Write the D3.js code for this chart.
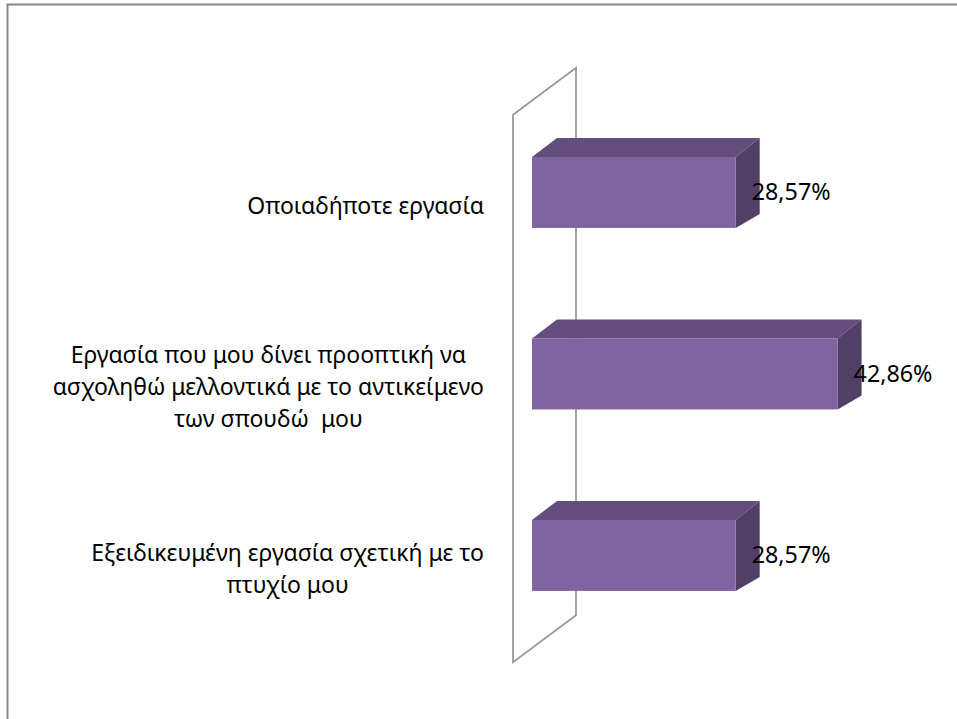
<!DOCTYPE html>
<html>
<head>
<meta charset="utf-8">
<script src="https://cdn.jsdelivr.net/npm/d3@7"></script>
<style>
html,body{margin:0;padding:0;background:#fff;}
svg{display:block;}
text{font-family:"Noto Sans","Open Sans",sans-serif;fill:#000;}
</style>
</head>
<body>
<svg id="chart" width="957" height="719"></svg>
<script>
const categories = [
  "Οποιαδήποτε εργασία",
  "Εργασία που μου δίνει προοπτική να ασχοληθώ μελλοντικά με το αντικείμενο των σπουδώ  μου",
  "Εξειδικευμένη εργασία σχετική με το πτυχίο μου"
];
const categoryLines = [
  ["Οποιαδήποτε εργασία"],
  ["Εργασία που μου δίνει προοπτική να", "ασχοληθώ μελλοντικά με το αντικείμενο", "των σπουδώ  μου"],
  ["Εξειδικευμένη εργασία σχετική με το", "πτυχίο μου"]
];
const values = [28.57, 42.86, 28.57];
const valueLabels = ["28,57%", "42,86%", "28,57%"];

const svg = d3.select("#chart");

// outer frame (extends past right/bottom edges)
svg.append("rect").attr("x", 7.5).attr("y", 4.5).attr("width", 960).attr("height", 730)
  .attr("fill", "#fff").attr("stroke", "#868686").attr("stroke-width", 2);

const x = d3.scaleLinear().domain([0, 50]).range([532, 532 + 50 * 7.13]);
const y = d3.scaleBand().domain(categories).range([101.7, 646.2])
  .paddingInner(0.609).paddingOuter(0.3045);

// 3D depth offsets
const bdx = 24, bdy = -19, bdyB = -14;

// wall
const wallDX = 63, wallDY = -47;
const wx = x(0) - 19;
const wTop = y.range()[0] + 13, wBot = y.range()[1] + 16;
svg.append("path")
  .attr("d", `M${wx},${wTop} L${wx + wallDX},${wTop + wallDY} L${wx + wallDX},${wBot + wallDY} L${wx},${wBot} Z`)
  .attr("fill", "none").attr("stroke", "#999999").attr("stroke-width", 1.8);

const colFront = "#8064A2", colTop = "#634D7C", colSide = "#523F68";

const g = svg.append("g");
categories.forEach((c, i) => {
  const top = y(c), bot = y(c) + y.bandwidth();
  const x0 = x(0), xr = x(values[i]);
  g.append("path").attr("d",
    `M${x0},${top} L${x0 + bdx + 1},${top + bdy} L${xr + bdx},${top + bdy} L${xr},${top} Z`)
    .attr("fill", colTop);
  g.append("path").attr("d",
    `M${xr},${top} L${xr + bdx},${top + bdy} L${xr + bdx},${bot + bdyB} L${xr},${bot} Z`)
    .attr("fill", colSide);
  g.append("rect").attr("x", x0).attr("y", top).attr("width", xr - x0).attr("height", bot - top)
    .attr("fill", colFront);
  g.append("text").attr("x", xr + 16).attr("y", (top + bot) / 2 + 1.5)
    .attr("dominant-baseline", "middle")
    .style("font-size", "23.3px")
    .text(valueLabels[i]);
});

// category labels
const labelRight = 484, lineH = 32;
categories.forEach((c, i) => {
  const lines = categoryLines[i];
  const cy = y(c) + y.bandwidth() / 2 + 15;
  const tg = svg.append("g");
  const ts = lines.map((ln, j) => tg.append("text")
    .attr("y", cy + (j - (lines.length - 1) / 2) * lineH)
    .attr("dominant-baseline", "middle")
    .attr("text-anchor", "middle")
    .style("font-size", "23px")
    .style("white-space", "pre")
    .attr("xml:space", "preserve")
    .text(ln));
  const maxW = d3.max(ts, t => t.node().getComputedTextLength());
  ts.forEach(t => t.attr("x", labelRight - maxW / 2));
});
</script>
</body>
</html>
